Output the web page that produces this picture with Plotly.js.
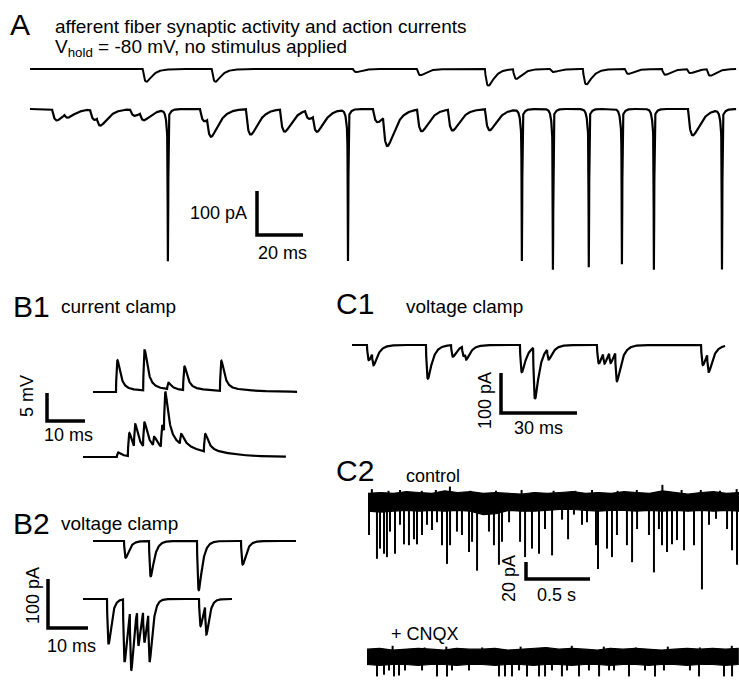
<!DOCTYPE html>
<html><head><meta charset="utf-8">
<script src="https://cdn.plot.ly/plotly-3.0.1.min.js"></script>
<style>html,body{margin:0;padding:0;background:#fff}#chart{width:739px;height:683px}</style>
</head><body><div id="chart"></div>
<script>
// ================= DATA =================
// Panel A : time in ms, current in pA
const aDuration = 307;
const aTopEpscTimes = [49.1, 79.1, 140.4, 168.3, 197.8, 210.0, 226.1, 240.4, 258.7, 274.8, 285.7, 294.3];
const aTopEpscAmps  = [29, 29, 7, 14, 38, 22, 7, 35, 11, 13, 9, 15];
const aBotEpscTimes = [9.6, 15.0, 26.1, 29.1, 43.5, 47.8, 73.9, 77.0, 93.9, 108.7, 119.6, 123.0, 149.1, 153.5, 168.3, 181.7, 197.8, 286.1];
const aBotEpscAmps  = [26, 11, 24, 22, 15, 19, 28, 46, 58, 51, 20, 40, 30, 72, 50, 48, 48, 60];
const aSpikeTimes   = [60.0, 138.3, 213.9, 227.4, 243.0, 257.4, 271.3, 300.9];
const aSpikeAmps    = [373, 373, 373, 395, 389, 382, 395, 393];
const aScale = {current: 100, time: 20};

// Panel B1 : current clamp, ms and mV
const b1Duration = [53.7, 53.4];
const b1TopTimes = [6.05, 13.2, 19.5, 23.7, 33.4];
const b1TopAmps  = [5.9, 7.6, 1.2, 4.4, 5.6];
const b1BotTimes = [8.9, 11.8, 13.4, 15.8, 18.4, 20.5, 21.3, 25.5, 31.8];
const b1BotAmps  = [0.9, 4.4, 4.6, 4.8, 1.8, 4.2, 8.4, 2.0, 3.4];
const b1Scale = {voltage: 5, time: 10};

// Panel B2 : voltage clamp, ms and pA
const b2Duration = [50.75, 37.25];
const b2TopTimes = [7.75, 14.0, 26.0, 37.0];
const b2TopAmps  = [34, 72, 100, 48];
const b2BotTimes = [6.0, 10.0, 11.7, 13.5, 15.0, 16.3, 29.0, 30.5];
const b2BotAmps  = [92, 128, 128, 78, 72, 108, 55, 62];
const b2Scale = {current: 100, time: 10};

// Panel C1 : voltage clamp, ms and pA
const c1Duration = 147.3;
const c1Times = [5.9, 7.9, 29.2, 39.1, 43.4, 44.6, 66.3, 71.5, 77.0, 96.7, 99.1, 101.5, 103.9, 137.8, 140.2];
const c1Amps  = [38, 34, 84, 29, 24, 18, 68, 130, 28, 46, 30, 30, 76, 50, 50];
const c1Scale = {current: 100, time: 30};

// Panel C2 : seconds and pA
const c2EnvTimes = [0,0.1,0.2,0.3,0.4,0.5,0.6,0.7,0.8,0.9,1.0,1.1,1.2,1.3,1.4,1.5,1.6,1.7,1.8,1.9,2.0,2.1,2.2,2.3,2.4,2.5,2.6,2.7,2.8,2.9];
const ctlUpper = [9,10,9,11,10,9,12,10,11,9,10,9,8,10,9,10,11,9,10,9,11,10,9,12,10,8,10,11,9,10];
const ctlLower = [-12,-13,-12,-11,-12,-11,-12,-11,-12,-16,-15,-11,-12,-12,-11,-10,-10,-11,-12,-11,-11,-12,-11,-12,-11,-12,-11,-12,-11,-12];
const ctlSpikeTimes = [0.008,0.070,0.094,0.125,0.148,0.172,0.211,0.250,0.281,0.320,0.359,0.383,0.422,0.461,0.500,0.539,0.578,0.617,0.641,0.695,0.734,0.789,0.813,0.852,0.945,0.984,1.023,1.047,1.102,1.188,1.227,1.281,1.336,1.383,1.438,1.516,1.563,1.609,1.672,1.711,1.781,1.797,1.867,1.906,1.945,2.023,2.063,2.102,2.195,2.234,2.273,2.297,2.336,2.375,2.414,2.469,2.547,2.609,2.664,2.719,2.805,2.844,2.883];
const ctlSpikeAmps  = [40,68,56,62,66,36,62,28,51,52,45,51,40,28,34,25,52,74,52,36,40,60,48,82,36,52,75,48,25,48,66,56,62,33,64,22,45,16,28,25,52,80,56,66,40,52,72,33,40,84,33,52,60,51,46,58,52,104,28,21,33,58,75];
const ctlUpTimes = [0.03,0.16,0.25,0.42,0.53,0.64,0.80,1.0,1.2,1.45,1.62,1.75,1.95,2.1,2.3,2.45,2.6,2.75,2.88];
const ctlUpAmps  = [14,12,13,12,13,17,12,12,13,12,12,13,12,13,19,13,13,12,14];
const cnqxUpper = [8,9,7,8,9,8,7,9,8,8,9,7,8,9,10,8,9,8,7,9,8,9,8,7,8,9,8,9,8,9];
const cnqxLower = [-10,-11,-10,-10,-11,-10,-10,-11,-10,-10,-11,-10,-10,-11,-10,-10,-11,-10,-10,-11,-10,-10,-11,-10,-10,-11,-10,-10,-11,-10];
const cnqxSpikeTimes = [0.078,0.133,0.172,0.211,0.250,0.297,0.430,0.547,0.625,0.664,0.797,1.031,1.078,1.133,1.188,1.250,1.344,1.391,1.445,1.523,1.563,1.656,1.734,1.813,1.891,1.930,2.047,2.172,2.250,2.320,2.523,2.594,2.789,2.852];
const cnqxSpikeAmps  = [24,22,17,24,23,17,17,24,24,17,17,24,24,24,17,24,24,24,17,24,17,24,17,24,17,17,24,17,24,17,17,24,24,24];
const cnqxUpTimes = [0.2,0.45,0.62,0.9,1.2,1.4,1.6,1.85,2.1,2.35,2.6,2.85];
const cnqxUpAmps  = [12,10,11,10,11,10,12,11,10,11,10,12];
const c2Scale = {current: 20, time: 0.5};

// Text
const txt = {
  A: 'A', titleA1: 'afferent fiber synaptic activity and action currents',
  titleA2: 'V<sub>hold</sub> = -80 mV, no stimulus applied',
  B1: 'B1', B1sub: 'current clamp', B2: 'B2', B2sub: 'voltage clamp',
  C1: 'C1', C1sub: 'voltage clamp', C2: 'C2', ctl: 'control', cnqx: '+ CNQX',
  pA100: '100 pA', ms20: '20 ms', mV5: '5 mV', ms10: '10 ms', ms30: '30 ms', pA20: '20 pA', s05: '0.5 s'
};

// ================= LAYOUT / RENDER =================
const W = 739, H = 683;
const FONT = 'Liberation Sans, Arial, Helvetica, sans-serif';
const panels = {
  A:  {box:[0,739,0,293],   x0:30,  sx:2.3,   y0:109, sy:0.44},
  B1: {box:[0,330,285,495], x0:93,  sx:3.8,   y0:392, sy:5.6},
  B2: {box:[0,330,495,683], x0:93,  sx:4.0,   y0:541, sy:0.49},
  C1: {box:[330,739,285,450], x0:352, sx:2.533, y0:345, sy:0.40},
  C2: {box:[330,739,450,683], x0:368, sx:128,  y0:501, sy:0.85}
};
const order = ['A','B1','B2','C1','C2'];
const layout = {width:W, height:H, margin:{l:0,r:0,t:0,b:0}, paper_bgcolor:'#fff', plot_bgcolor:'rgba(0,0,0,0)',
  showlegend:false, annotations:[]};
order.forEach((k,i)=>{
  const p = panels[k], n = i===0?'':String(i+1);
  p.xa = 'x'+n; p.ya = 'y'+n;
  layout['xaxis'+n] = {domain:[p.box[0]/W, p.box[1]/W], range:[(p.box[0]-p.x0)/p.sx, (p.box[1]-p.x0)/p.sx],
    visible:false, fixedrange:true, anchor:'y'+n};
  layout['yaxis'+n] = {domain:[1-p.box[3]/H, 1-p.box[2]/H], range:[-(p.box[3]-p.y0)/p.sy, -(p.box[2]-p.y0)/p.sy],
    visible:false, fixedrange:true, anchor:'x'+n};
});
// convert a pixel position to panel data units (positions only)
const dx = (p,px)=> (px-p.x0)/p.sx, dy = (p,py)=> -(py-p.y0)/p.sy;

function dexpNorm(tr, td){ const tp = tr*td/(td-tr)*Math.log(td/tr); return 1/(Math.exp(-tp/td)-Math.exp(-tp/tr)); }
function kernel(s, tr, td, nrm){ return s>0 ? nrm*(Math.exp(-s/td)-Math.exp(-s/tr)) : 0; }

// build a waveform from an event list
function wave(duration, dt, events, extraFn){
  const x=[], y=[];
  const N = Math.round(duration/dt);
  for(let i=0;i<=N;i++){
    const t = i*dt; let v = 0;
    events.forEach(ev=>{
      const nrm = dexpNorm(ev.tr, ev.td);
      for(let k=0;k<ev.times.length;k++){ const s=t-ev.times[k]; if(s>0 && s<ev.td*12) v += ev.w*ev.amps[k]*kernel(s,ev.tr,ev.td,nrm); }
    });
    if(extraFn) v += extraFn(t);
    x.push(t); y.push(v);
  }
  return {x,y};
}
const traces = [];
function addLine(p, w, startPx, basePy, sign, width){
  const ox = dx(p,startPx), oy = dy(p,basePy);
  traces.push({type:'scatter', mode:'lines', xaxis:p.xa, yaxis:p.ya, hoverinfo:'skip',
    x:w.x.map(v=>v+ox), y:w.y.map(v=>oy+sign*v), line:{color:'#000', width:width, shape:'linear'}});
}
function addScale(p, cornerPx, cornerPy, vAmp, tLen){
  const cx = dx(p,cornerPx), cy = dy(p,cornerPy);
  traces.push({type:'scatter', mode:'lines', xaxis:p.xa, yaxis:p.ya, hoverinfo:'skip',
    x:[cx, cx, cx+tLen], y:[cy+vAmp, cy, cy], line:{color:'#000', width:3.5}});
}

// ---- Panel A ----
const PA = panels.A;
addLine(PA, wave(aDuration, 0.2, [{times:aTopEpscTimes, amps:aTopEpscAmps, tr:1.0, td:2.4, w:1}]), 30, 69, -1, 2);
const spikeFn = t=>{ let v=0; for(let k=0;k<aSpikeTimes.length;k++){ const s=t-aSpikeTimes[k];
  if(s<0 && s>-6) v += 100*Math.exp(s/0.6);
  if(s>=0 && s<10) v += 22*Math.exp(-s/0.9);
  if(Math.abs(s)<1) v += (aSpikeAmps[k]-100)*Math.exp(-(s/0.18)*(s/0.18)); } return v; };
addLine(PA, wave(aDuration, 0.05, [{times:aBotEpscTimes, amps:aBotEpscAmps, tr:1.6, td:2.8, w:1}], spikeFn), 30, 109, -1, 2.2);
addScale(PA, 257, 235, aScale.current, aScale.time);

// ---- Panel B1 ----
const PB1 = panels.B1;
const epsp = (times, amps, ws)=>[{times, amps, tr:0.2, td:0.8, w:1-ws},{times, amps, tr:0.5, td:6, w:ws}];
addLine(PB1, wave(b1Duration[0], 0.05, epsp(b1TopTimes, b1TopAmps, 0.12)), 93, 392, 1, 2.2);
addLine(PB1, wave(b1Duration[1], 0.05, epsp(b1BotTimes, b1BotAmps, 0.2)), 83, 457, 1, 2.2);
addScale(PB1, 47, 421, b1Scale.voltage, b1Scale.time);

// ---- Panel B2 ----
const PB2 = panels.B2;
addLine(PB2, wave(b2Duration[0], 0.05, [{times:b2TopTimes, amps:b2TopAmps, tr:0.25, td:0.9, w:1}]), 93, 541, -1, 2.2);
addLine(PB2, wave(b2Duration[1], 0.05, [{times:b2BotTimes, amps:b2BotAmps, tr:0.25, td:0.7, w:1}]), 83, 599, -1, 2.2);
addScale(PB2, 48, 628, b2Scale.current, b2Scale.time);

// ---- Panel C1 ----
const PC1 = panels.C1;
addLine(PC1, wave(c1Duration, 0.1, [{times:c1Times, amps:c1Amps, tr:0.4, td:1.8, w:1}]), 352, 345, -1, 2.2);
addScale(PC1, 501, 413, c1Scale.current, c1Scale.time);

// ---- Panel C2 ----
const PC2 = panels.C2;
function addBand(p, startPx, basePy, upper, lower, spT, spA, upT, upA){
  const ox = dx(p,startPx), oy = dy(p,basePy);
  const bx = c2EnvTimes.map(t=>t+ox), rx = bx.slice().reverse();
  traces.push({type:'scatter', mode:'lines', xaxis:p.xa, yaxis:p.ya, hoverinfo:'skip', fill:'toself', fillcolor:'#000',
    x: bx.concat(rx), y: upper.map(v=>v+oy).concat(lower.map(v=>v+oy).reverse()), line:{color:'#000', width:1.2}});
  const sx=[], sy=[];
  spT.forEach((t,k)=>{ sx.push(t+ox, t+ox, null); sy.push(oy-8, oy-spA[k], null); });
  upT.forEach((t,k)=>{ sx.push(t+ox, t+ox, null); sy.push(oy+6, oy+upA[k], null); });
  traces.push({type:'scatter', mode:'lines', xaxis:p.xa, yaxis:p.ya, hoverinfo:'skip', x:sx, y:sy, line:{color:'#000', width:2}});
}
addBand(PC2, 368, 501, ctlUpper, ctlLower, ctlSpikeTimes, ctlSpikeAmps, ctlUpTimes, ctlUpAmps);
addBand(PC2, 367, 656, cnqxUpper, cnqxLower, cnqxSpikeTimes, cnqxSpikeAmps, cnqxUpTimes, cnqxUpAmps);
addScale(PC2, 526, 579, c2Scale.current, c2Scale.time);

// ---- text ----
function ann(text, px, py, size, xanchor, angle){
  layout.annotations.push({text, x:px/W, y:1-py/H, xref:'paper', yref:'paper', showarrow:false,
    xanchor:xanchor||'left', yanchor:'middle', textangle:angle||0, font:{family:FONT, size, color:'#000'}});
}
ann(txt.A, 8, 24, 30);
ann(txt.titleA1, 53, 26, 19);
ann(txt.titleA2, 53, 48, 19);
ann(txt.pA100, 249, 213, 18, 'right');
ann(txt.ms20, 282, 253, 18, 'center');
ann(txt.B1, 11, 306, 30);
ann(txt.B1sub, 59, 306, 19);
ann(txt.mV5, 27, 396, 18, 'center', -90);
ann(txt.ms10, 68, 435, 18, 'center');
ann(txt.B2, 11, 523, 30);
ann(txt.B2sub, 59, 523, 19);
ann(txt.pA100, 33, 596, 18, 'center', -90);
ann(txt.ms10, 71, 646, 18, 'center');
ann(txt.C1, 334, 303, 30);
ann(txt.C1sub, 404, 306, 19);
ann(txt.pA100, 485, 401, 18, 'center', -90);
ann(txt.ms30, 538, 428, 18, 'center');
ann(txt.C2, 334, 470, 30);
ann(txt.ctl, 404, 476, 18);
ann(txt.pA20, 509, 579, 18, 'center', -90);
ann(txt.s05, 556, 595, 18, 'center');
ann(txt.cnqx, 389, 634, 18);

Plotly.newPlot('chart', traces, layout, {staticPlot:true, displayModeBar:false});
</script></body></html>
